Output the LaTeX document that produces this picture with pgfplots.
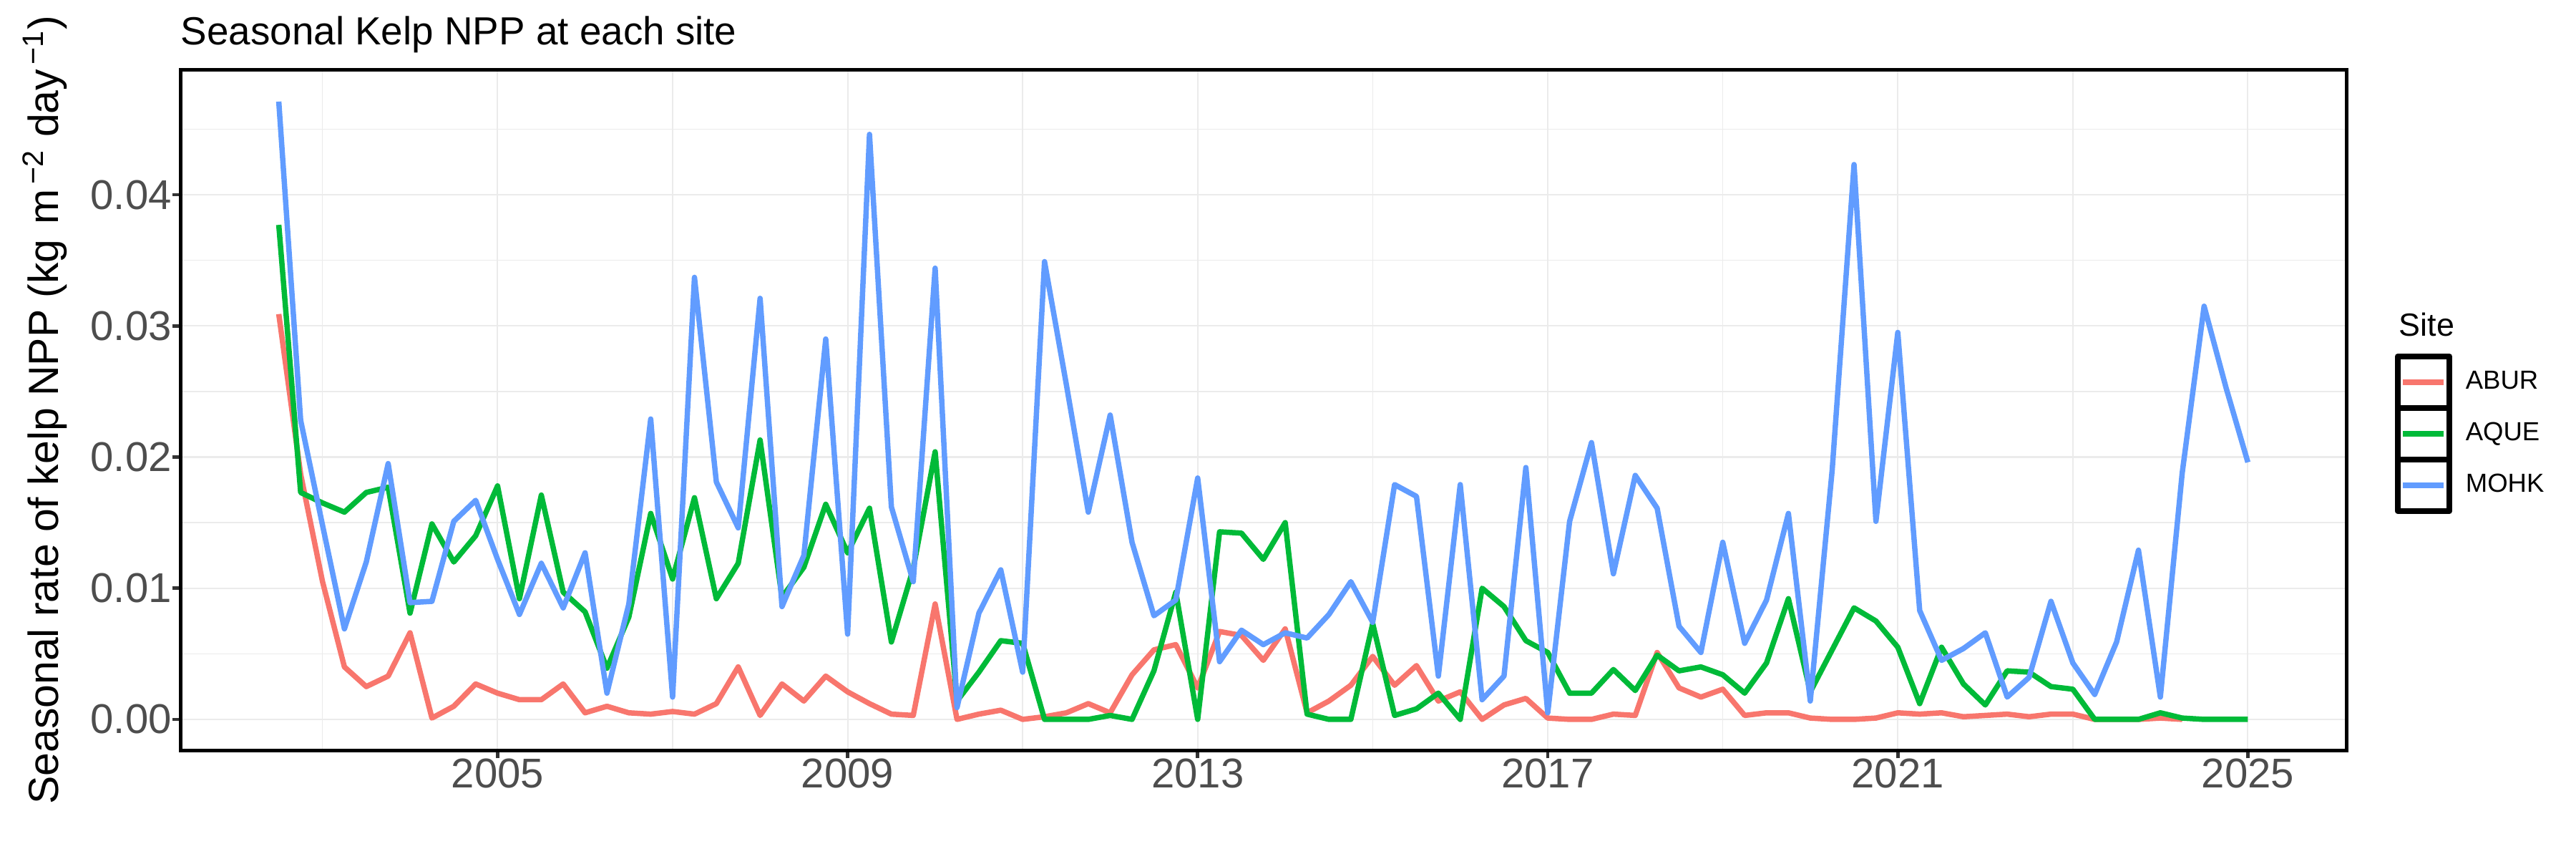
\documentclass[border=0pt]{standalone}
\usepackage{fontspec}
\setmainfont{Liberation Sans}
\usepackage{pgfplots}
\usepackage{pgfplotstable}
\pgfplotsset{compat=1.18}
\definecolor{cABUR}{HTML}{F8766D}
\definecolor{cAQUE}{HTML}{00BA38}
\definecolor{cMOHK}{HTML}{619CFF}
\definecolor{gridc}{HTML}{EBEBEB}
\definecolor{tickc}{HTML}{4D4D4D}
\definecolor{tickm}{HTML}{333333}

\pgfplotstableread{
x abur aque mohk
2002.50 0.0309 0.0377 0.0471
2002.75 0.0187 0.0173 0.0228
2003.00 0.0105 0.0165 0.0148
2003.25 0.0040 0.0158 0.0069
2003.50 0.0025 0.0173 0.0120
2003.75 0.0033 0.0177 0.0195
2004.00 0.0066 0.0081 0.0089
2004.25 0.0001 0.0149 0.0090
2004.50 0.0010 0.0120 0.0151
2004.75 0.0027 0.0140 0.0167
2005.00 0.0020 0.0178 0.0122
2005.25 0.0015 0.0092 0.0080
2005.50 0.0015 0.0171 0.0119
2005.75 0.0027 0.0097 0.0085
2006.00 0.0005 0.0082 0.0127
2006.25 0.0010 0.0039 0.0020
2006.50 0.0005 0.0078 0.0088
2006.75 0.0004 0.0157 0.0229
2007.00 0.0006 0.0107 0.0017
2007.25 0.0004 0.0169 0.0337
2007.50 0.0012 0.0092 0.0181
2007.75 0.0040 0.0119 0.0146
2008.00 0.0003 0.0213 0.0321
2008.25 0.0027 0.0093 0.0086
2008.50 0.0014 0.0116 0.0125
2008.75 0.0033 0.0164 0.0290
2009.00 0.0021 0.0127 0.0065
2009.25 0.0012 0.0161 0.0446
2009.50 0.0004 0.0059 0.0162
2009.75 0.0003 0.0115 0.0105
2010.00 0.0088 0.0204 0.0344
2010.25 0.0000 0.0014 0.0009
2010.50 0.0004 0.0036 0.0081
2010.75 0.0007 0.0060 0.0114
2011.00 0.0000 0.0058 0.0036
2011.25 0.0002 0.0000 0.0349
2011.50 0.0005 0.0000 0.0255
2011.75 0.0012 0.0000 0.0158
2012.00 0.0005 0.0003 0.0232
2012.25 0.0034 0.0000 0.0135
2012.50 0.0053 0.0037 0.0079
2012.75 0.0057 0.0097 0.0091
2013.00 0.0024 0.0000 0.0184
2013.25 0.0067 0.0143 0.0044
2013.50 0.0064 0.0142 0.0068
2013.75 0.0045 0.0122 0.0057
2014.00 0.0069 0.0150 0.0066
2014.25 0.0005 0.0004 0.0062
2014.50 0.0014 0.0000 0.0080
2014.75 0.0026 0.0000 0.0105
2015.00 0.0048 0.0073 0.0074
2015.25 0.0026 0.0003 0.0179
2015.50 0.0041 0.0008 0.0170
2015.75 0.0014 0.0020 0.0033
2016.00 0.0021 0.0000 0.0179
2016.25 0.0000 0.0100 0.0015
2016.50 0.0011 0.0086 0.0033
2016.75 0.0016 0.0060 0.0192
2017.00 0.0001 0.0051 0.0005
2017.25 0.0000 0.0020 0.0151
2017.50 0.0000 0.0020 0.0211
2017.75 0.0004 0.0038 0.0111
2018.00 0.0003 0.0022 0.0186
2018.25 0.0051 0.0049 0.0161
2018.50 0.0024 0.0037 0.0071
2018.75 0.0017 0.0040 0.0051
2019.00 0.0023 0.0034 0.0135
2019.25 0.0003 0.0020 0.0058
2019.50 0.0005 0.0043 0.0091
2019.75 0.0005 0.0092 0.0157
2020.00 0.0001 0.0021 0.0014
2020.25 0.0000 0.0053 0.0190
2020.50 0.0000 0.0085 0.0423
2020.75 0.0001 0.0075 0.0151
2021.00 0.0005 0.0055 0.0295
2021.25 0.0004 0.0012 0.0083
2021.50 0.0005 0.0055 0.0045
2021.75 0.0002 0.0027 0.0054
2022.00 0.0003 0.0011 0.0066
2022.25 0.0004 0.0037 0.0017
2022.50 0.0002 0.0036 0.0032
2022.75 0.0004 0.0025 0.0090
2023.00 0.0004 0.0023 0.0043
2023.25 0.0000 0.0000 0.0019
2023.50 0.0000 0.0000 0.0059
2023.75 0.0000 0.0000 0.0129
2024.00 0.0001 0.0005 0.0017
2024.25 0.0000 0.0001 0.0188
2024.50 nan 0.0000 0.0315
2024.75 nan 0.0000 0.0253
2025.00 nan 0.0000 0.0196
}\npp

\begin{document}
\begin{tikzpicture}
\useasboundingbox (0,0) rectangle (864bp,288bp);
\begin{axis}[
  at={(60.48bp,36.48bp)}, anchor=south west,
  scale only axis, width=726.48bp, height=228bp,
  xmin=2001.375, xmax=2026.125, ymin=-0.00235, ymax=0.0495,
  xtick={2005,2009,2013,2017,2021,2025},
  minor xtick={2003,2007,2011,2015,2019,2023},
  ytick={0,0.01,0.02,0.03,0.04},
  minor ytick={0.005,0.015,0.025,0.035,0.045},
  grid=both,
  major grid style={gridc, line width=0.5bp},
  minor grid style={gridc, line width=0.35bp},
  axis line style={black, line width=1.2bp},
  tick align=outside, tick pos=left,
  major tick length=2.75bp, minor tick length=0pt,
  every tick/.style={tickm, line width=1.1bp},
  scaled y ticks=false,
  /pgf/number format/assume math mode=true,
  xticklabel style={font=\fontsize{14}{16}\selectfont, text=tickc, inner sep=0pt, /pgf/number format/1000 sep={}},
  yticklabel style={font=\fontsize{14}{16}\selectfont, text=tickc, inner sep=0pt, /pgf/number format/.cd, fixed, fixed zerofill, precision=2},
  ylabel={Seasonal rate of kelp NPP (kg\hspace{0.35em}m\hspace{0.12em}\textsuperscript{−2} day\hspace{0.1em}\textsuperscript{−1})},
  ylabel style={at={(axis description cs:-0.0562,0.5)}, anchor=base, font=\fontsize{14.2}{16}\selectfont, text=black, inner sep=0pt},
  title={Seasonal Kelp NPP at each site},
  every axis title/.style={at={(axis description cs:0,1)}, anchor=base west, yshift=8.4bp, inner sep=0pt, font=\fontsize{13.2}{15}\selectfont},
  legend style={at={(axis description cs:1.0221,0.5843)}, anchor=north west, draw=none, fill=none, inner sep=0pt, row sep=-2bp, column sep=4.5bp, font=\fontsize{8.8}{10}\selectfont, nodes={inner sep=0pt}},
  legend cell align=left,
  legend image code/.code={
    \draw[black, line width=2bp, line join=round] (0bp,-8.64bp) rectangle (17.28bp,8.64bp);
    \draw[line width=2bp] (1.7bp,0bp) -- (15.4bp,0bp);
  },
]
\addplot[cABUR, line width=1.8bp, line join=round] table[x=x, y=abur] {\npp};
\addlegendentry{ABUR}
\addplot[cAQUE, line width=1.8bp, line join=round] table[x=x, y=aque] {\npp};
\addlegendentry{AQUE}
\addplot[cMOHK, line width=1.8bp, line join=round] table[x=x, y=mohk] {\npp};
\addlegendentry{MOHK}
\end{axis}
\node[anchor=base west, inner sep=0pt, font=\fontsize{10.8}{12}\selectfont] at (804.5bp,175.2bp) {Site};
\end{tikzpicture}
\end{document}
